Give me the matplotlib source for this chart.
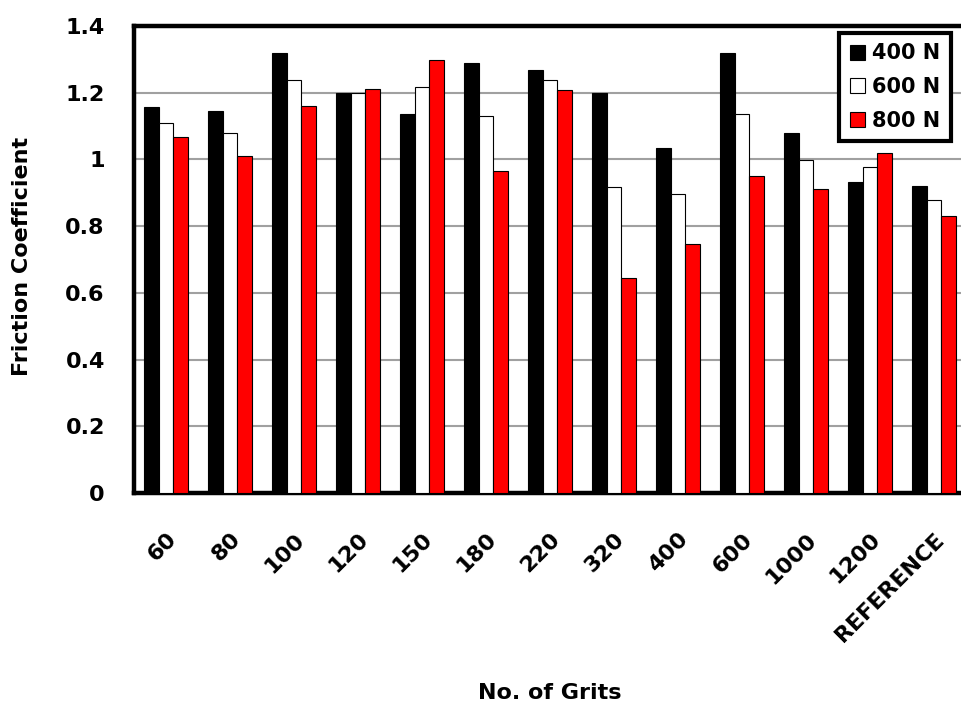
import numpy as np
import matplotlib
matplotlib.use('Agg')
import matplotlib.pyplot as plt

plt.rcParams['font.family'] = ['DejaVu Sans']
plt.rcParams['font.weight'] = 'bold'

# ── Data ─────────────────────────────────────────────────────────────────────
grits = ['60', '80', '100', '120', '150', '180', '220', '320', '400', '600',
         '1000', '1200', 'REFERENCE']
load_400 = [1.158, 1.146, 1.318, 1.198, 1.135, 1.288, 1.268, 1.200, 1.035, 1.318, 1.080, 0.931, 0.919]
load_600 = [1.110, 1.080, 1.237, 1.200, 1.218, 1.130, 1.237, 0.918, 0.896, 1.137, 0.998, 0.976, 0.880]
load_800 = [1.068, 1.010, 1.160, 1.210, 1.298, 0.966, 1.207, 0.645, 0.748, 0.950, 0.910, 1.018, 0.830]

series = [('400 N', load_400, 'black'),
          ('600 N', load_600, 'white'),
          ('800 N', load_800, '#ff0000')]

# ── Plot ─────────────────────────────────────────────────────────────────────
fig = plt.figure(figsize=(9.61, 7.10), dpi=100)
ax = fig.add_axes([0.1394, 0.3056, 0.8658, 0.6577])

x = np.arange(len(grits))
w = 0.23
for i, (label, vals, color) in enumerate(series):
    ax.bar(x + (i - 1) * w, vals, width=w, color=color, edgecolor='black',
           linewidth=0.8, label=label, zorder=3)

ax.set_xlim(-0.5, len(grits) - 0.5)
ax.set_ylim(0, 1.4)
ax.set_yticks(np.arange(0, 1.41, 0.2))
ax.set_yticklabels(['0', '0.2', '0.4', '0.6', '0.8', '1', '1.2', '1.4'])
ax.yaxis.grid(True, color='#a0a0a0', linewidth=1.5, zorder=0)
ax.set_axisbelow(True)

ax.set_xticks(x)
ax.set_xticklabels(grits, rotation=45, ha='right', va='top', rotation_mode='anchor')
ax.tick_params(axis='x', length=0, pad=26, labelsize=16)
ax.tick_params(axis='y', length=0, pad=21, labelsize=16)

for side in ['left', 'bottom', 'top']:
    ax.spines[side].set_linewidth(3.2)
ax.spines['right'].set_visible(False)  # cut off in the original

ax.set_xlabel('No. of Grits', fontsize=16, fontweight='bold', va='center')
ax.xaxis.set_label_coords(0.5, -0.428)
ax.set_ylabel('Friction Coefficient', fontsize=16, fontweight='bold', va='center')
ax.yaxis.set_label_coords(-0.135, 0.507)

leg = ax.legend(loc='upper right', bbox_to_anchor=(0.982, 0.985), fontsize=15,
                fancybox=False, edgecolor='black', framealpha=1, borderaxespad=0,
                handlelength=0.75, handleheight=0.75, handletextpad=0.35,
                labelspacing=0.65, borderpad=0.5)
leg.get_frame().set_linewidth(3.0)

plt.savefig('out.png', dpi=100)
